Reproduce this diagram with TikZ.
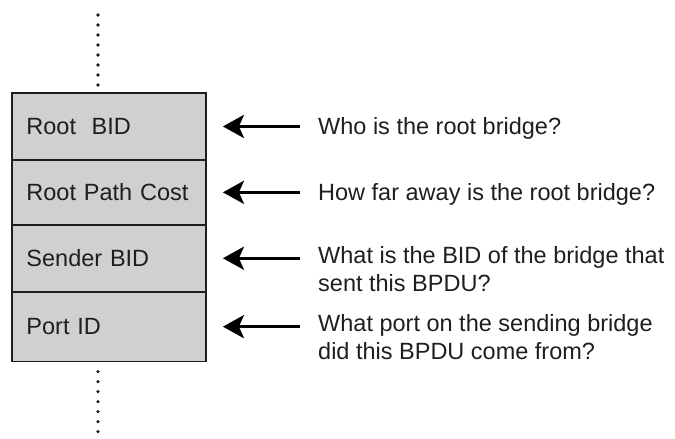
\documentclass[tikz,border=0pt]{standalone}
\usepackage{fontspec}
\setmainfont{Liberation Sans}
\usetikzlibrary{arrows.meta}
\definecolor{fieldgray}{RGB}{208,208,208}
\definecolor{ink}{RGB}{30,30,30}
\begin{document}
\begin{tikzpicture}[x=1pt,y=-1pt,
  every node/.style={font=\fontsize{23.5}{28}\selectfont, text=ink},
  field/.style={draw=ink, line width=0.9pt, fill=fieldgray, minimum width=193pt,
    text width=165pt, align=left, inner xsep=14pt, inner ysep=0pt, anchor=north west},
  question/.style={anchor=west, align=left, inner sep=0pt},
  arr/.style={-{Stealth[length=21pt,width=23pt,inset=5pt]}, line width=3.5pt, draw=black,
    shorten <=18pt, shorten >=17pt},
  dots/.style={line width=3.6pt, line cap=round, dash pattern=on 0pt off 10pt, draw=ink}]
\useasboundingbox (0,0) rectangle (675,439);
\node[field, minimum height=66pt] (f1) at (12,93) {Root\ \ BID};
\node[field, minimum height=64pt] (f2) at (f1.south west) {Root Path Cost};
\node[field, minimum height=66pt] (f3) at (f2.south west) {Sender BID};
\node[field, minimum height=69pt] (f4) at (f3.south west) {Port ID};
\draw[ink, line width=1.6pt] (f1.north west) rectangle (f4.south east);
\coordinate (dtop) at (98,15);
\coordinate (dbot) at (98,445);
\draw[dots] (dtop) -- (f1.north west -| dtop);
\draw[dots] (f4.south west -| dbot) ++(0,10) -- (dbot);
\node[question] (q1) at (318,128) {Who is the root bridge?};
\node[question] (q2) at (318,194) {How far away is the root bridge?};
\node[question] (q3) at (318,269) {What is the BID of the bridge that\\sent this BPDU?};
\node[question] (q4) at (318,337) {What port on the sending bridge\\did this BPDU come from?};
\draw[arr] (f1.east -| q1.west) -- (f1.east);
\draw[arr] (f2.east -| q2.west) -- (f2.east);
\draw[arr] (f3.east -| q3.west) -- (f3.east);
\draw[arr] (f4.east -| q4.west) -- (f4.east);
\end{tikzpicture}
\end{document}
